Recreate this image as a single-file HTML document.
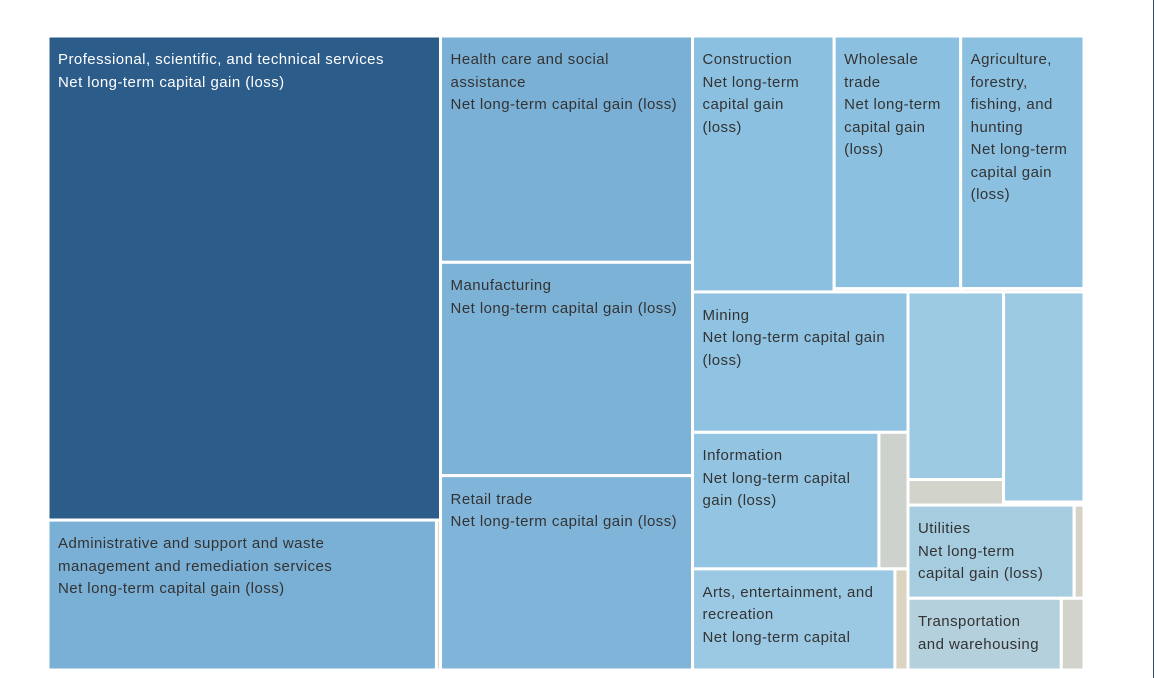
<!DOCTYPE html>
<html><head><meta charset="utf-8"><style>
html,body{margin:0;padding:0;background:#fff;}
#wrap{position:relative;width:1158px;height:678px;overflow:hidden;font-family:"Liberation Sans",sans-serif;}
.lbl{position:absolute;font-size:15px;letter-spacing:0.45px;line-height:22.5px;color:#333;overflow:hidden;box-sizing:border-box;padding:13px 12px 0 10px;}
#edge{position:absolute;left:1153px;top:0;width:1px;height:678px;background:#2a4a6e;}
</style></head><body>
<div id="wrap">
<svg id="svg" width="1158" height="678"></svg>
<div id="edge"></div>
</div>
<script>
// values (area units) per leaf
const names = ["Professional, scientific, and technical services","Administrative and support and waste management and remediation services","admin-sliver","Health care and social assistance","Manufacturing","Retail trade","Construction","Wholesale trade","wholesale-sliver","Agriculture, forestry, fishing, and hunting","agri-sliver","Mining","Information","info-sliver","Arts, entertainment, and recreation","arts-sliver","unlabeled-a","unlabeled-a-sliver","unlabeled-b","unlabeled-b-sliver","Utilities","utilities-sliver","Transportation and warehousing","transport-sliver"];
const values = [186.6,57.2,0.6,56.0,52.8,48.1,35.6,31.4,0.4,30.6,0.4,29.7,25.0,3.9,20.1,1.3,17.6,2.4,16.6,0.24,15.2,0.9,10.8,1.6];
const colors = ["#2c5c8a","#7bb0d6","#dcd3c0","#7bb0d6","#7db2d7","#80b5d9","#8cc0e0","#8cc0e0","#d8d3c3","#8cc0e0","#d8d3c3","#90c3e1","#93c5e2","#cdd2cc","#9bc9e3","#dcd3c0","#9ccae2","#d2d4cb","#9ccae2","#dcd3c0","#a6cce0","#d6d3c6","#b3d0dc","#d2d3cb"];
const labelOn = [1,1,0,1,1,1,1,1,0,1,0,1,1,0,1,0,0,0,0,0,1,0,1,0];
// layout structure: h = side by side, v = stacked; numbers are leaf indices
const tree = {d:"h",c:[
  {d:"v",c:[0,{d:"h",c:[1,2]}]},
  {d:"v",c:[3,4,5]},
  {d:"v",c:[
    {d:"h",c:[6,{d:"v",c:[7,8]},{d:"v",c:[9,10]}]},
    {d:"h",c:[
      {d:"v",c:[11,{d:"h",c:[12,13]},{d:"h",c:[14,15]}]},
      {d:"v",c:[{d:"h",c:[{d:"v",c:[16,17]},{d:"v",c:[18,19]}]},{d:"h",c:[20,21]},{d:"h",c:[22,23]}]}
    ]}
  ]}
]};
function sum(n){return typeof n==="number"?values[n]:n.c.reduce((a,b)=>a+sum(b),0);}
const svg=document.getElementById('svg'),wrap=document.getElementById('wrap');
const NS="http://www.w3.org/2000/svg";
function layout(n,x,y,w,h){
  if(typeof n==="number"){draw(n,x,y,w,h);return;}
  const t=sum(n);let p=0;
  n.c.forEach(ch=>{const f=sum(ch)/t;
    if(n.d==="h"){layout(ch,x+p*w,y,f*w,h);}else{layout(ch,x,y+p*h,w,f*h);}
    p+=f;});
}
function draw(i,x,y,w,h){
  const r=document.createElementNS(NS,"rect");
  r.setAttribute("x",x);r.setAttribute("y",y);r.setAttribute("width",Math.max(0,w));r.setAttribute("height",Math.max(0,h));
  r.setAttribute("fill",colors[i]);r.setAttribute("stroke","#fff");r.setAttribute("stroke-width","3");
  
  
  svg.appendChild(r);
  if(labelOn[i]){
    const d=document.createElement("div");d.className="lbl";
    const lines=Math.floor((h-17)/22.5);
    d.style.left=x+"px";d.style.top=y+"px";d.style.width=w+"px";d.style.height=(13+lines*22.5)+"px";
    if(i===0)d.style.color="#fff";
    if(i===1)d.style.paddingRight="40px";
    d.innerHTML=names[i]+"<br>Net long-term capital gain (loss)";
    
    
    wrap.appendChild(d);
  }
}
layout(tree,48,36,1036,634);
</script>
</body></html>
